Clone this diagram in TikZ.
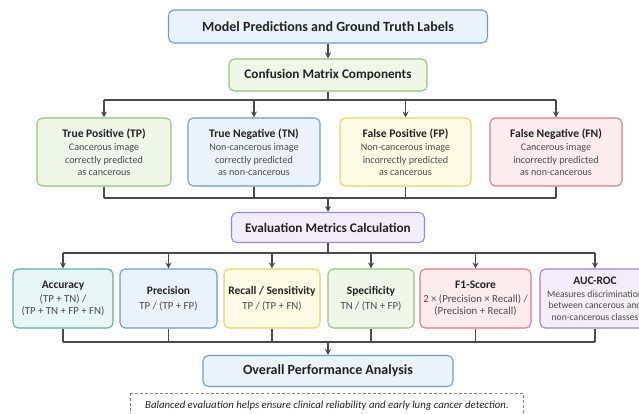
\documentclass[tikz,border=0pt]{standalone}
\usepackage{fontspec}
\setmainfont{Carlito}
\usetikzlibrary{arrows.meta}
\definecolor{ln}{HTML}{4A4A4A}
\definecolor{txt}{HTML}{222222}
\definecolor{sub}{HTML}{4A4A4A}
\definecolor{bF}{HTML}{EAF3FC}\definecolor{bD}{HTML}{6F9DC9}
\definecolor{gF}{HTML}{EFF7E8}\definecolor{gD}{HTML}{93C47D}
\definecolor{yF}{HTML}{FFFBE4}\definecolor{yD}{HTML}{E6D36E}
\definecolor{rF}{HTML}{FDECEE}\definecolor{rD}{HTML}{E07A84}
\definecolor{tF}{HTML}{E9F6F6}\definecolor{tD}{HTML}{62ABAB}
\definecolor{pF}{HTML}{F2EDFA}\definecolor{pD}{HTML}{9D88D2}
\tikzset{
  box/.style={draw, rounded corners=4pt, line width=0.8pt, align=center, inner sep=0pt, text=txt},
  bluebox/.style={box, fill=bF, draw=bD},
  greenbox/.style={box, fill=gF, draw=gD},
  yellowbox/.style={box, fill=yF, draw=yD},
  redbox/.style={box, fill=rF, draw=rD},
  tealbox/.style={box, fill=tF, draw=tD},
  purplebox/.style={box, fill=pF, draw=pD},
  sz/.style 2 args={minimum width={#1*0.75pt}, minimum height={#2*0.75pt}},
  conn/.style={draw=ln, line width=0.9pt},
  arr/.style={conn, -{Stealth[length=4.5pt,width=4.5pt]}},
  hd/.style={font=\fontsize{10.5}{12}\selectfont\bfseries},
  hdsmall/.style={font=\fontsize{9.9}{12}\selectfont\bfseries},
  body/.style={font=\fontsize{7.6}{9.2}\selectfont, text=sub},
  mbody/.style={font=\fontsize{8.1}{9.6}\selectfont, text=sub},
  smallbody/.style={font=\fontsize{7.2}{8.6}\selectfont, text=sub},
}
\begin{document}
\begin{tikzpicture}[x=0.75pt,y=-0.75pt]
\useasboundingbox (0,0) rectangle (639,414);
\clip (0,0) rectangle (639,414);
\fill[white] (0,0) rectangle (639,414);
% top
\node[bluebox, sz={319}{33}, hd] (top) at (328,26.5) {Model Predictions and Ground Truth Labels};
\node[greenbox, sz={198}{32}, hdsmall] (conf) at (328,75) {Confusion Matrix Components};
% confusion components
\node[greenbox, sz={134}{68}, body] (tp) at (104,152) {{\fontsize{8.7}{10}\selectfont\bfseries\color{txt}True Positive (TP)}\\[1pt]Cancerous image\\correctly predicted\\as cancerous};
\node[bluebox, sz={132}{68}, body] (tn) at (254,152) {{\fontsize{8.7}{10}\selectfont\bfseries\color{txt}True Negative (TN)}\\[1pt]Non-cancerous image\\correctly predicted\\as non-cancerous};
\node[yellowbox, sz={131}{68}, body] (fp) at (405.5,152) {{\fontsize{8.7}{10}\selectfont\bfseries\color{txt}False Positive (FP)}\\[1pt]Non-cancerous image\\incorrectly predicted\\as cancerous};
\node[redbox, sz={132}{68}, body] (fn) at (556,152) {{\fontsize{8.7}{10}\selectfont\bfseries\color{txt}False Negative (FN)}\\[1pt]Cancerous image\\incorrectly predicted\\as non-cancerous};
\node[purplebox, sz={193}{30}, hdsmall] (eval) at (328,227.5) {Evaluation Metrics Calculation};
% metrics
\node[tealbox, sz={100}{59}, mbody] (acc) at (63,298.5) {{\fontsize{8.6}{10}\selectfont\bfseries\color{txt}Accuracy}\\[1pt](TP + TN) /\\(TP + TN + FP + FN)};
\node[bluebox, sz={97}{59}, mbody] (prec) at (168.5,298.5) {{\fontsize{8.6}{10}\selectfont\bfseries\color{txt}Precision}\\[2pt]TP / (TP + FP)};
\node[yellowbox, sz={96}{59}, mbody] (rec) at (272,298.5) {{\fontsize{8.6}{10}\selectfont\bfseries\color{txt}Recall / Sensitivity}\\[2pt]TP / (TP + FN)};
\node[greenbox, sz={86}{59}, mbody] (spec) at (371,298.5) {{\fontsize{8.6}{10}\selectfont\bfseries\color{txt}Specificity}\\[2pt]TN / (TN + FP)};
\node[redbox, sz={111}{59}, mbody] (f1) at (475.5,298.5) {{\fontsize{8.6}{10}\selectfont\bfseries\color{txt}F1-Score}\\[1pt]2 × (Precision × Recall) /\\(Precision + Recall)};
\node[purplebox, sz={110}{59}, smallbody] (auc) at (595,298.5) {{\fontsize{8.6}{10}\selectfont\bfseries\color{txt}AUC-ROC}\\[1pt]Measures discrimination\\between cancerous and\\non-cancerous classes};
\node[bluebox, sz={250}{31}, hd] (overall) at (328,371) {Overall Performance Analysis};
% note
\draw[ln!70, line width=0.6pt, dash pattern=on 2.2pt off 1.6pt] (130,393) rectangle (523,432);
\node[text=txt, font=\fontsize{8.1}{9.6}\selectfont\itshape] (note) at (327,405.5) {Balanced evaluation helps ensure clinical reliability and early lung cancer detection.};
% buses
\coordinate (b1) at (0,100);
\coordinate (b2) at (0,198);
\coordinate (b3) at (0,253);
\coordinate (b4) at (0,342);
% connectors
\draw[arr] (top.south) -- (conf.north);
\draw[conn] (conf.south) -- (conf.south |- b1);
\draw[conn] (tp.north |- b1) -- (fn.north |- b1);
\foreach \n in {tp,tn,fp,fn} \draw[arr] (\n.north |- b1) -- (\n.north);
\foreach \n in {tp,tn,fp,fn} \draw[conn] (\n.south) -- (\n.south |- b2);
\draw[conn] (tp.south |- b2) -- (fn.south |- b2);
\draw[arr] (eval.north |- b2) -- (eval.north);
\draw[conn] (eval.south) -- (eval.south |- b3);
\draw[conn] (acc.north |- b3) -- (auc.north |- b3);
\foreach \n in {acc,prec,rec,spec,f1,auc} \draw[arr] (\n.north |- b3) -- (\n.north);
\foreach \n in {acc,prec,rec,spec,f1,auc} \draw[conn] (\n.south) -- (\n.south |- b4);
\draw[conn] (acc.south |- b4) -- (auc.south |- b4);
\draw[arr] (overall.north |- b4) -- (overall.north);
\end{tikzpicture}
\end{document}
